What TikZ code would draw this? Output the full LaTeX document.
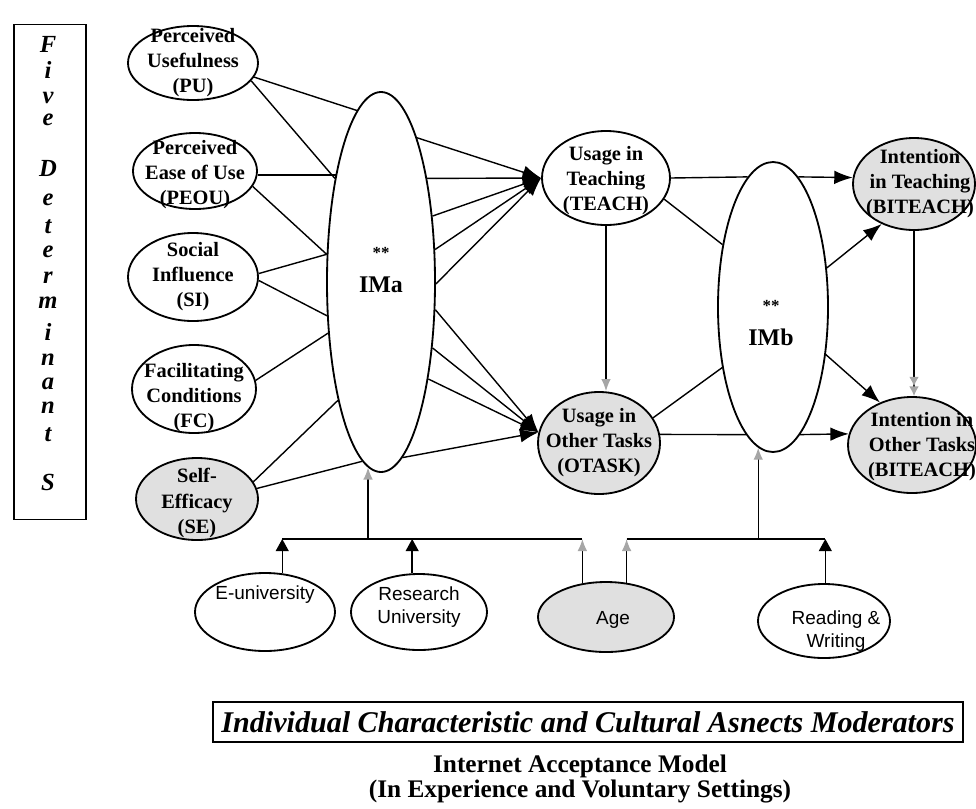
\documentclass[tikz,border=0pt]{standalone}
\usepackage{fontspec}
\setmainfont{Liberation Serif}
\newfontfamily\arialfont{Liberation Sans}
\usetikzlibrary{shapes.geometric, arrows.meta}

\tikzset{
  oval/.style 2 args={draw, ellipse, line width=1.3pt, inner sep=0pt,
    minimum width=#1*0.5mm, minimum height=#2*0.5mm},
  dim/.style={fill=black!12},
  tag/.style={font=\fontsize{14.5}{17.8}\selectfont\bfseries, align=center},
  stag/.style={font=\arialfont\fontsize{13.5}{16.4}\selectfont, align=center},
  hub/.style={font=\fontsize{17}{24}\selectfont\bfseries, align=center},
  letter/.style={font=\fontsize{17.5}{17.5}\selectfont\bfseries\itshape, inner sep=0pt},
  link/.style={line width=1pt},
  push/.style={link, -{Latex[length=4.6mm, width=3.4mm]}},
  lift/.style={link, -{Triangle[length=3mm, width=3.2mm]}},
  faint/.style={link, -{Latex[length=3mm, width=2.4mm, color=black!35]}},
}

\begin{document}
\begin{tikzpicture}[x=0.25mm, y=-0.25mm]
  \useasboundingbox (0,0) rectangle (976,808);

  % five determinants column
  \node[draw, line width=1.2pt, minimum width=72*0.25mm, minimum height=495*0.25mm] (detbox) at (50,272) {};
  \foreach \ch/\yy [count=\k] in {F/44, i/70, v/98, e/120, D/168, e/200, t/227, e/252,
      r/278, m/303, i/332, n/360, a/384, n/408, t/435, S/482}
    \node[letter] (det\k) at (48,\yy) {\ch};

  % determinants
  \node[oval={65}{37}, label={[tag]center:Perceived\\Usefulness\\(PU)}] (PU) at (193,63) {};
  \node[oval={62}{38}, label={[tag, yshift=-1mm]center:Perceived\\Ease of Use\\(PEOU)}] (PEOU) at (195,171) {};
  \node[oval={65}{44}, label={[tag]center:Social\\Influence\\(SI)}] (SI) at (193,277) {};
  \node[oval={62}{44}, label={[tag, yshift=-2.2mm]center:Facilitating\\Conditions\\(FC)}] (FC) at (194,389) {};
  \node[oval={61}{41}, dim, label={[tag, yshift=-1mm]center:Self-\\Efficacy\\(SE)}] (SE) at (197,499) {};

  % moderator hubs
  \node[oval={54}{190}, fill=white, label={[hub, yshift=3mm]center:{\fontsize{12}{24}\selectfont **}\\IMa}] (IMa) at (381,282) {};
  \node[oval={55}{145}, fill=white, label={[hub, yshift=-4mm, xshift=-0.5mm]center:{\fontsize{12}{19}\selectfont **}\\IMb}] (IMb) at (773,307) {};

  % usage and intention
  \node[oval={64}{47}, label={[tag, yshift=-0.75mm]center:Usage in\\Teaching\\(TEACH)}] (TEACH) at (606,178) {};
  \node[oval={61}{51}, dim, label={[tag]center:Usage in\\Other Tasks\\(OTASK)}] (OTASK) at (599,443) {};
  \node[oval={61}{46}, dim, label={[tag, xshift=1.5mm]center:Intention\\in Teaching\\(BITEACH)}] (BIT) at (914,184) {};
  \node[oval={64}{48}, dim, label={[tag, xshift=2.5mm, yshift=-0.5mm]center:Intention in\\Other Tasks\\(BITEACH)}] (BIO) at (912,445) {};

  % individual and cultural moderators
  \node[oval={70}{39}, label={[stag, yshift=4.25mm]center:E-university}] (Euni) at (265,612) {};
  \node[oval={68}{38}, label={[stag, yshift=1.25mm]center:Research\\University}] (Res) at (419,612) {};
  \node[oval={68}{35}, dim, label={[stag, xshift=1.75mm, yshift=-0.75mm]center:Age}] (Age) at (606,617) {};
  \node[oval={66}{37}, label={[stag, xshift=3mm, yshift=-2.5mm]center:Reading \&\\Writing}] (Read) at (824,621) {};

  % determinants into IMa
  \draw[link] (PU.-13) -- (IMa.98);
  \draw[link] (PU.-17) -- (IMa.114);
  \draw[link] (PEOU.east |- IMa.113.5) -- (IMa.113.5);
  \draw[link] (PEOU.-15) -- (IMa.153);
  \draw[link] (SI.3) -- (IMa.153);
  \draw[link] (SI.-3) -- (IMa.212);
  \draw[link] (FC.8) -- (IMa.224);
  \draw[link] (SE.17) -- (IMa.250);
  \draw[link] (SE.10) -- (IMa.264);

  % IMa into usage
  \foreach \a in {76, 66.5, 52, 31, -2}
    \draw[push] (IMa.\a) -- (TEACH.west);
  \foreach \a in {-27, -52, -64, -83}
    \draw[push] (IMa.\a) -- (OTASK.170);
  \draw[faint] (TEACH.south) -- (TEACH.south |- OTASK.north);

  % usage through IMb into intention
  \draw[link] (TEACH.east) -- (IMb.101);
  \draw[push] (IMb.79) -- (BIT.174);
  \draw[link] (TEACH.-20) -- (IMb.129.5);
  \draw[push] (IMb.36) -- (BIT.231);
  \draw[link] (OTASK.25) -- (IMb.230);
  \draw[link] (OTASK.8) -- (IMb.258);
  \draw[push] (IMb.282) -- (BIO.170);
  \draw[push] (IMb.-42.5) -- (BIO.127);
  \draw[link, -{Latex[length=2.4mm, width=2.4mm, color=black!35] Latex[length=2.4mm, width=2.4mm, color=black!35]}]
    (BIT.south) -- (BIT.south |- BIO.north);

  % moderator bus lines
  \coordinate (busY) at (0,539);
  \draw[link] (Euni.66 |- busY) -- (Age.125 |- busY);
  \draw[link] (Age.59 |- busY) -- (Read.88 |- busY);
  \draw[lift] (Euni.66) -- (Euni.66 |- busY);
  \draw[lift] (Res.100) -- (Res.100 |- busY);
  \draw[lift] (Read.88) -- (Read.88 |- busY);
  \draw[faint] (Age.125) -- (Age.125 |- busY);
  \draw[faint] (Age.59) -- (Age.59 |- busY);
  \draw[faint] (IMa.266 |- busY) -- (IMa.266);
  \draw[faint] (IMb.264 |- busY) -- (IMb.264);

  % captions
  \node[draw, line width=1.2pt, minimum width=750*0.25mm, minimum height=40*0.25mm,
    font=\fontsize{21.4}{24}\selectfont\bfseries\itshape] (moder) at (588,722)
    {Individual Characteristic and Cultural Asnects Moderators};
  \node[font=\fontsize{18}{17.8}\selectfont\bfseries, align=center] (title) at (580,779)
    {Internet Acceptance Model\\(In Experience and Voluntary Settings)};
\end{tikzpicture}
\end{document}
